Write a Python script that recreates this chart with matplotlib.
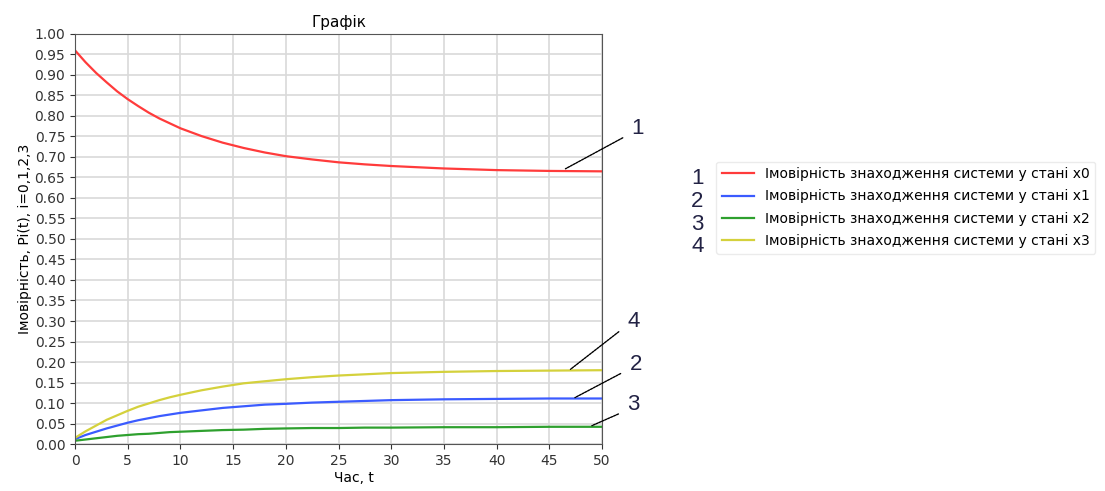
import numpy as np
import matplotlib.pyplot as plt

# Час, t
t = [0, 1, 2, 3, 4, 5, 6, 7, 8, 9, 10, 12, 14, 16, 18, 20, 22.5, 25, 27.5, 30, 35, 40, 45, 50]

# Імовірності станів x0..x3
p0 = [0.960, 0.931, 0.905, 0.882, 0.860, 0.841, 0.824, 0.808, 0.794, 0.782, 0.770, 0.751,
      0.735, 0.722, 0.711, 0.702, 0.694, 0.687, 0.682, 0.678, 0.672, 0.668, 0.666, 0.665]
p1 = [0.012, 0.022, 0.030, 0.038, 0.045, 0.052, 0.058, 0.063, 0.068, 0.072, 0.076, 0.082,
      0.088, 0.092, 0.096, 0.098, 0.101, 0.103, 0.105, 0.107, 0.109, 0.110, 0.111, 0.111]
p2 = [0.008, 0.011, 0.014, 0.017, 0.020, 0.022, 0.024, 0.025, 0.027, 0.029, 0.030, 0.032,
      0.034, 0.035, 0.037, 0.038, 0.039, 0.039, 0.040, 0.040, 0.041, 0.041, 0.042, 0.042]
p3 = [0.015, 0.031, 0.045, 0.059, 0.070, 0.081, 0.091, 0.099, 0.107, 0.114, 0.120, 0.131,
      0.140, 0.148, 0.153, 0.158, 0.163, 0.167, 0.170, 0.173, 0.176, 0.178, 0.179, 0.180]

labels = ['Імовірність знаходження системи у стані x0',
          'Імовірність знаходження системи у стані x1',
          'Імовірність знаходження системи у стані x2',
          'Імовірність знаходження системи у стані x3']
colors = ['#ff3b3b', '#3b5bff', '#2ea02e', '#d4d13c']
series = [p0, p1, p2, p3]

fig = plt.figure(figsize=(11.05, 4.91), dpi=100)
ax = fig.add_axes([0.0679, 0.0957, 0.4769, 0.8351])

for y, lab, c in zip(series, labels, colors):
    ax.plot(t, y, color=c, lw=1.6, label=lab)

ax.set_xlim(0, 50)
ax.set_ylim(0, 1)
ax.set_xticks(np.arange(0, 51, 5))
ax.set_yticks(np.arange(0, 1.001, 0.05))
ax.grid(True, color='#d9d9d9', lw=1.2)
for s in ax.spines.values():
    s.set_color('#555555')
ax.tick_params(labelsize=10, colors='#333333', labelcolor='#333333')
ax.set_title('Графік', fontsize=11, pad=5)
ax.set_xlabel('Час, t', fontsize=10, labelpad=2, x=0.53)
ax.set_ylabel('Імовірність, Pi(t), i=0,1,2,3', fontsize=10, labelpad=2)

leg = fig.legend(loc='upper left', bbox_to_anchor=(0.642, 0.685), fontsize=10,
                 frameon=True, handlelength=2.3, labelspacing=0.6,
                 borderpad=0.4, handletextpad=0.8)
leg.get_frame().set_edgecolor('#e6e6e6')
leg.get_frame().set_linewidth(1.0)

# номери в легенді
for i, yy in enumerate([0.637, 0.590, 0.543, 0.497]):
    fig.text(0.631, yy, str(i + 1), fontsize=16, family='Liberation Sans',
             color='#222244', va='center', ha='center')

# виноски до кривих
notes = [('1', 46.3, p0[-3], 52.2, 0.750),
         ('4', 46.8, p3[-3], 51.8, 0.278),
         ('2', 47.2, p1[-3], 52.0, 0.175),
         ('3', 48.8, p2[-1], 51.8, 0.076)]
for txt, x0, y0, x1, y1 in notes:
    ax.annotate('', xy=(x0, y0), xytext=(x1, y1), annotation_clip=False,
                arrowprops=dict(arrowstyle='-', color='black', lw=1.0,
                                linestyle=(0, (1.5, 0.8))))
    ax.text(x1 + 0.6, y1 + 0.02, txt, fontsize=16, family='Liberation Sans',
            color='#222244', va='center', ha='left', clip_on=False)

fig.savefig('out.png', dpi=100)
